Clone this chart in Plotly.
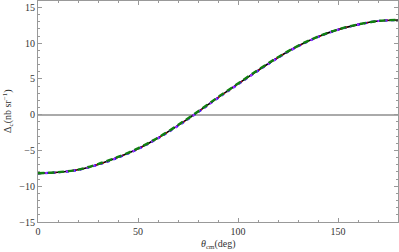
import plotly.graph_objects as go

theta = [0, 10, 20, 30, 40, 50, 60, 70, 80, 90, 100, 110, 120, 130, 140, 150, 160, 170, 180]
delta_black = [-8.2, -8.05, -7.7, -6.95, -5.95, -4.75, -3.25, -1.5, 0.4, 2.4, 4.3, 6.2, 8.0, 9.6, 10.9, 11.9, 12.6, 13.1, 13.25]
delta_red = [-8.2, -8.05, -7.7, -6.97, -5.97, -4.78, -3.28, -1.53, 0.37, 2.37, 4.27, 6.17, 7.98, 9.58, 10.88, 11.89, 12.6, 13.1, 13.25]
delta_blue = [-8.2, -8.06, -7.72, -6.99, -6.0, -4.8, -3.3, -1.56, 0.34, 2.34, 4.24, 6.15, 7.96, 9.56, 10.87, 11.88, 12.59, 13.1, 13.25]
delta_purple = [-8.2, -8.05, -7.71, -6.97, -5.98, -4.78, -3.28, -1.54, 0.36, 2.36, 4.26, 6.16, 7.97, 9.57, 10.88, 11.89, 12.6, 13.1, 13.25]
delta_green = [-8.18, -8.03, -7.67, -6.9, -5.9, -4.7, -3.2, -1.44, 0.46, 2.46, 4.36, 6.25, 8.04, 9.63, 10.92, 11.92, 12.62, 13.11, 13.26]

xticks = [0, 50, 100, 150]
yticks = [-15, -10, -5, 0, 5, 10, 15]
ytick_text = ["\u221215", "\u221210", "\u22125", "0", "5", "10", "15"]

fig = go.Figure()
series = [
    (delta_black, "black", "solid", 1.6),
    (delta_red, "#e00000", "4px,3px", 1.6),
    (delta_blue, "#1010ff", "3px,4px", 2.2),
    (delta_purple, "#b030ff", "2px,5px", 2.0),
    (delta_green, "#108010", "6px,4px", 2.4),
]
for ys, col, dash, w in series:
    fig.add_trace(go.Scatter(x=theta, y=ys, mode="lines",
                             line=dict(color=col, width=w, dash=dash, shape="spline"),
                             showlegend=False, hoverinfo="skip"))

font = dict(family="Liberation Serif, Times New Roman, serif", size=10, color="#333")
fig.update_layout(
    width=399, height=252,
    margin=dict(l=38, r=1, t=1, b=30, autoexpand=False),
    paper_bgcolor="white", plot_bgcolor="white",
    font=font,
    xaxis=dict(range=[0, 180], tickvals=xticks, ticktext=[str(v) for v in xticks],
               ticks="inside", ticklen=4, tickcolor="#999", showline=True, linecolor="#999",
               linewidth=1, mirror="ticks", showgrid=False, zeroline=False, automargin=False,
               minor=dict(dtick=10, tick0=0, ticks="inside", ticklen=2, tickcolor="#999"),
               tickfont=font),
    yaxis=dict(range=[-15, 15.9], tickvals=yticks, ticktext=ytick_text,
               ticks="inside", ticklen=4, tickcolor="#999", showline=True, linecolor="#999",
               linewidth=1, mirror="ticks", showgrid=False, automargin=False,
               zeroline=True, zerolinecolor="#aaaaaa", zerolinewidth=1.6,
               minor=dict(dtick=1, tick0=0, ticks="inside", ticklen=2, tickcolor="#999"),
               tickfont=font),
    annotations=[
        dict(text="<i>\u03b8</i><sub>cm</sub>(deg)", xref="paper", yref="paper",
             x=0.5, y=-0.065, xanchor="center", yanchor="top", showarrow=False, font=font),
        dict(text="\u0394<sub>c</sub>(nb sr<sup>\u22121</sup>)", xref="paper", yref="paper",
             x=-0.085, y=0.5, xanchor="center", yanchor="middle", textangle=-90,
             showarrow=False, font=font),
    ],
)
fig.write_html("out.html", config={"displayModeBar": False},
               post_script="document.body.style.margin='0px';document.body.style.overflow='hidden';")
